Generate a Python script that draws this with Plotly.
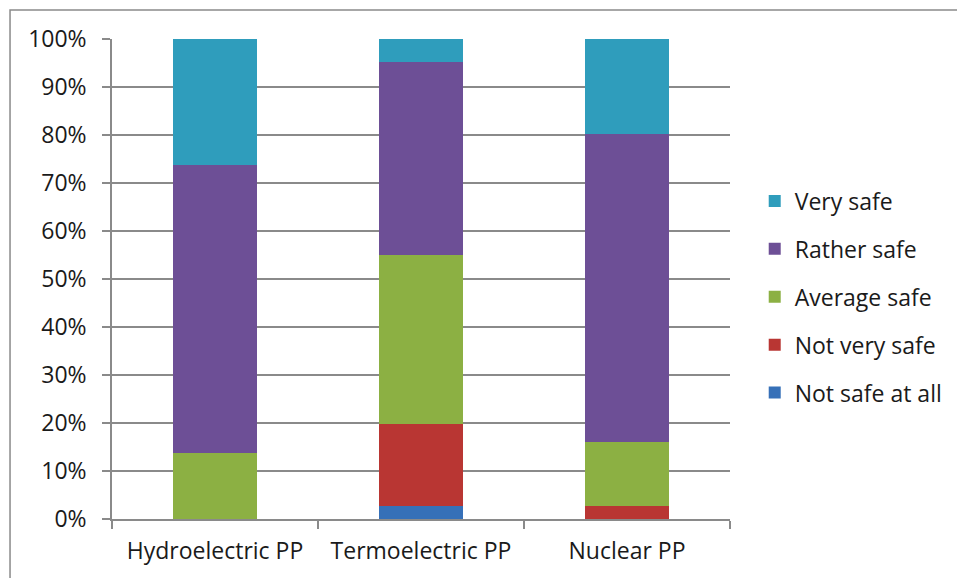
import plotly.graph_objects as go

# Survey: perceived safety of power plant types (share of answers, %)
categories = ["Hydroelectric PP", "Termoelectric PP", "Nuclear PP"]

not_safe_at_all = [0.0, 2.7, 0.0]
not_very_safe = [0.0, 17.0, 2.7]
average_safe = [13.8, 35.4, 13.3]
rather_safe = [60.0, 40.2, 64.2]
very_safe = [26.2, 4.7, 19.8]

y_ticks = [0, 10, 20, 30, 40, 50, 60, 70, 80, 90, 100]
y_tick_labels = [f"{v}%" for v in y_ticks]

series = [
    ("Not safe at all", not_safe_at_all, "#3670b8"),
    ("Not very safe", not_very_safe, "#b93633"),
    ("Average safe", average_safe, "#8cb043"),
    ("Rather safe", rather_safe, "#6d4f96"),
    ("Very safe", very_safe, "#2f9dbc"),
]

FONT = "Open Sans"
FSIZE = 23
GRID = "#8a8a8a"

fig = go.Figure()
n = len(series)
for i, (name, values, color) in enumerate(series):
    fig.add_trace(go.Bar(
        x=categories,
        y=values,
        name=name,
        legendgroup=f"g{i}",
        legendrank=n - i,  # top of the stack listed first
        marker=dict(color=color, line=dict(width=0)),
        width=0.41,
    ))

fig.update_layout(
    width=957,
    height=578,
    barmode="stack",
    paper_bgcolor="white",
    plot_bgcolor="white",
    margin=dict(l=112, r=227, t=39, b=59, autoexpand=False),
    font=dict(family=FONT, size=FSIZE, color="#1a1a1a"),
    legend=dict(
        x=1.04,
        y=0.4625,
        xanchor="left",
        yanchor="middle",
        traceorder="grouped",
        tracegroupgap=15,
        font=dict(family=FONT, size=FSIZE, color="#1a1a1a"),
        itemwidth=30,
    ),
    xaxis=dict(
        type="category",
        tickson="boundaries",
        ticks="outside",
        ticklen=8,
        tickcolor=GRID,
        tickwidth=1.5,
        showline=True,
        linecolor=GRID,
        linewidth=1.5,
        showgrid=False,
        ticklabelstandoff=11,
    ),
    yaxis=dict(
        range=[0, 100],
        tickvals=y_ticks,
        ticktext=y_tick_labels,
        ticks="outside",
        ticklen=8,
        tickcolor=GRID,
        tickwidth=1.5,
        showline=True,
        linecolor=GRID,
        linewidth=1.5,
        showgrid=True,
        gridcolor=GRID,
        gridwidth=1.5,
        zeroline=False,
        ticklabelstandoff=11,
    ),
    shapes=[
        # chart-area frame (runs off the right and bottom edges)
        dict(
            type="rect",
            xref="paper",
            yref="paper",
            x0=-0.165,
            x1=1.6,
            y0=-0.5,
            y1=1.0604,
            line=dict(color=GRID, width=1.5),
            fillcolor="rgba(0,0,0,0)",
            layer="below",
        )
    ],
)

fig.write_html("out.html")
